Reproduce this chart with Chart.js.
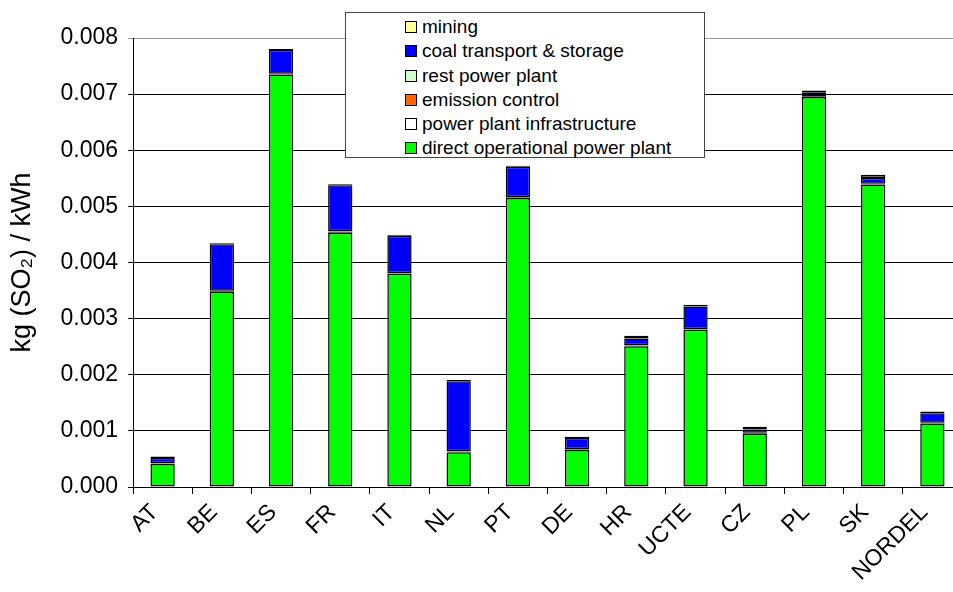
<!DOCTYPE html>
<html>
<head>
<meta charset="utf-8">
<script src="https://cdn.jsdelivr.net/npm/chart.js@4"></script>
<style>
  body { margin: 0; background: #fff; overflow: hidden; }
  #wrap { position: relative; width: 953px; height: 592px; overflow: hidden; }
  #legend {
    position: absolute; left: 345px; top: 12px; width: 360px; height: 146px;
    border: 1px solid #444; background: #fff; box-sizing: border-box;
    font-family: "Liberation Sans", Arial, sans-serif; font-size: 19px; color: #000;
    padding: 2px 0 0 59px;
  }
  .item { height: 24.3px; line-height: 24px; white-space: nowrap; }
  .sw { display: inline-block; width: 10px; height: 10px; border: 1px solid #000; margin-right: 5px; vertical-align: 0px; }
</style>
</head>
<body>
<div id="wrap">
  <canvas id="c" width="965" height="592"></canvas>
  <div id="legend"></div>
</div>
<script>
// countries
const labels = ['AT', 'BE', 'ES', 'FR', 'IT', 'NL', 'PT', 'DE', 'HR', 'UCTE', 'CZ', 'PL', 'SK', 'NORDEL'];

// kg SO2 per kWh, per stage
const directOp   = [0.00041, 0.00348, 0.00735, 0.00453, 0.00380, 0.00062, 0.00515, 0.00066, 0.00251, 0.00280, 0.00095, 0.00695, 0.00539, 0.00113];
const infra      = [0.00001, 0.00001, 0.00001, 0.00002, 0.00001, 0.00001, 0.00001, 0.00001, 0.00001, 0.00001, 0.00001, 0.00001, 0.00001, 0.00001];
const emission   = [0, 0, 0, 0, 0, 0, 0, 0, 0, 0, 0, 0, 0, 0];
const restPlant  = [0.000005, 0.000005, 0.000005, 0.000005, 0.000005, 0.000005, 0.000005, 0.000005, 0.000005, 0.000005, 0.000005, 0.000005, 0.000005, 0.000005];
const coalTrans  = [0.00009, 0.00083, 0.00042, 0.00082, 0.00066, 0.00125, 0.00054, 0.00020, 0.00012, 0.00040, 0.00006, 0.00006, 0.00010, 0.00017];
const mining     = [0.00003, 0.00002, 0.00002, 0.00002, 0.00002, 0.00002, 0.00002, 0.00002, 0.00005, 0.00003, 0.00005, 0.00004, 0.00006, 0.00003];

const yTicks = [0, 0.001, 0.002, 0.003, 0.004, 0.005, 0.006, 0.007, 0.008];

function ds(label, data, color) {
  return {
    label: label, data: data, backgroundColor: color,
    borderColor: '#000', borderWidth: 1.5, borderSkipped: false,
    barPercentage: 0.41, categoryPercentage: 1
  };
}

const datasets = [
  ds('direct operational power plant', directOp, '#00ff00'),
  ds('power plant infrastructure', infra, '#ffffff'),
  ds('emission control', emission, '#ff6600'),
  ds('rest power plant', restPlant, '#ccffcc'),
  ds('coal transport & storage', coalTrans, '#0000ff'),
  ds('mining', mining, '#ffff99')
];

const font = "'Liberation Sans', Arial, sans-serif";

const chart = new Chart(document.getElementById('c'), {
  type: 'bar',
  data: { labels: labels, datasets: datasets },
  options: {
    responsive: false,
    animation: false,
    layout: { padding: { top: 38, right: 3, left: 0, bottom: 0 } },
    plugins: { legend: { display: false }, tooltip: { enabled: false } },
    scales: {
      x: {
        stacked: true,
        offset: true,
        grid: { display: true, offset: true, drawOnChartArea: false, color: '#000', tickLength: 7 },
        border: { color: '#000', width: 1 },
        ticks: { color: '#000', font: { family: font, size: 23 }, maxRotation: 45, minRotation: 45, padding: 5, labelOffset: -8, autoSkip: false },
        afterFit: (s) => { s.height = 105; }
      },
      y: {
        stacked: true,
        min: 0, max: 0.008,
        afterBuildTicks: (s) => { s.ticks = yTicks.map(v => ({ value: v })); },
        grid: { color: (c) => c.tick && c.tick.value === 0.008 ? '#999' : '#000', lineWidth: 1, tickLength: 5 },
        border: { color: '#000', width: 1 },
        ticks: { color: '#000', font: { family: font, size: 23 }, padding: 10, callback: (v) => v.toFixed(3) },
        title: { display: true, text: 'kg (SO₂) / kWh', color: '#000', font: { family: font, size: 27 }, padding: { top: 6, bottom: 0 } },
        afterFit: (s) => { s.width = 133; }
      }
    }
  }
});

// legend box, built from the chart's datasets (top item = top of stack)
const leg = document.getElementById('legend');
chart.data.datasets.slice().reverse().forEach(d => {
  const row = document.createElement('div');
  row.className = 'item';
  const sw = document.createElement('span');
  sw.className = 'sw';
  sw.style.background = d.backgroundColor;
  row.appendChild(sw);
  row.appendChild(document.createTextNode(d.label));
  leg.appendChild(row);
});
</script>
</body>
</html>
